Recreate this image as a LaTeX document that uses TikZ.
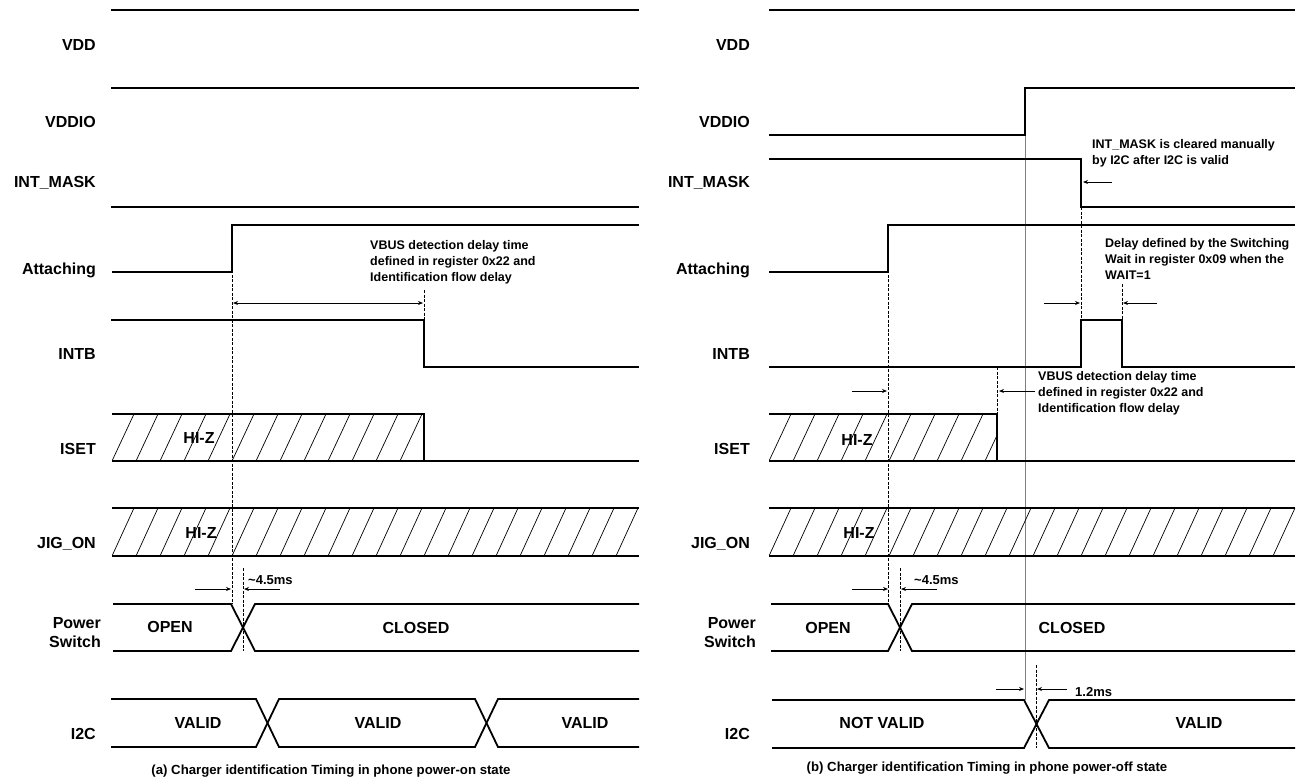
\documentclass[tikz,border=0pt]{standalone}
\usepackage{fontspec}
\setmainfont{Liberation Sans}
\usetikzlibrary{arrows.meta}
\begin{document}
\begin{tikzpicture}[x=1pt,y=-1pt,
  sig/.style={line width=1.8pt},
  hat/.style={line width=0.7pt},
  dsh/.style={line width=0.8pt, dash pattern=on 3pt off 1.5pt},
  arr/.style={line width=0.8pt, -{Stealth[length=5pt,width=4pt]}},
  darr/.style={line width=0.8pt, {Stealth[length=5pt,width=4pt]}-{Stealth[length=5pt,width=4pt]}},
  lab/.style={font=\fontsize{16}{19}\selectfont\bfseries, anchor=east, inner sep=0pt, align=right},
  st/.style={font=\fontsize{16}{16}\selectfont\bfseries, inner sep=0pt},
  note/.style={font=\fontsize{12.5}{16}\selectfont\bfseries, anchor=west, align=left, inner sep=0pt},
  small/.style={font=\fontsize{13}{13}\selectfont\bfseries, anchor=west, inner sep=0pt},
  captxt/.style={font=\fontsize{13.2}{14}\selectfont\bfseries, inner sep=0pt},
]
\useasboundingbox (0,0) rectangle (1301,780);
% ================= LEFT PANEL =================
\node[lab] (aVDD) at (96,45) {VDD};
\node[lab] (aVDDIO) at (96,122) {VDDIO};
\node[lab] (aMASK) at (96,183) {INT\_MASK};
\node[lab] (aATT) at (96,270) {Attaching};
\node[lab] (aINTB) at (96,354) {INTB};
\node[lab] (aISET) at (96,449) {ISET};
\node[lab] (aJIG) at (96,544) {JIG\_ON};
\node[lab] (aPS) at (101,633) {Power\\Switch};
\node[lab] (aI2C) at (96,734) {I2C};
% VDD, VDDIO, INT_MASK
\draw[sig] (111,10) -- (639,10);
\draw[sig] (111,88) -- (639,88);
\draw[sig] (111,207) -- (639,207);
% Attaching
\draw[sig] (112,272) -- (232,272) -- (232,225) -- (639,225);
% INTB
\draw[sig] (111,320) -- (424,320) -- (424,367) -- (639,367);
% ISET
\begin{scope}
\clip (112,414) rectangle (424,461);
\foreach \k in {0,...,13} \draw[hat] (112+24*\k,461) -- (134+24*\k,414);
\end{scope}
\draw[sig] (112,414) -- (424,414) -- (424,461);
\draw[sig] (112,461) -- (639,461);
\node[st] (aHZ1) at (199,438) {HI-Z};
% JIG_ON
\begin{scope}
\clip (112,508) rectangle (639,556);
\foreach \k in {0,...,22} \draw[hat] (112+24*\k,556) -- (134+24*\k,508);
\end{scope}
\draw[sig] (112,508) -- (639,508);
\draw[sig] (112,556) -- (639,556);
\node[st] (aHZ2) at (201,533) {HI-Z};
% Power switch
\draw[sig] (113,604) -- (231,604) -- (255,651) -- (639,651);
\draw[sig] (113,651) -- (231,651) -- (255,604) -- (639,604);
\node[st] (aOPEN) at (170,627) {OPEN};
\node[st] (aCLOSED) at (416,628) {CLOSED};
% I2C
\draw[sig] (111,699) -- (256,699) -- (279,747) -- (475,747) -- (498,699) -- (639,699);
\draw[sig] (111,747) -- (256,747) -- (279,699) -- (475,699) -- (498,747) -- (639,747);
\node[st] (aV1) at (198,723) {VALID};
\node[st] (aV2) at (378,723) {VALID};
\node[st] (aV3) at (585,723) {VALID};
% annotations
\draw[dsh] (232,225) -- (232,604);
\draw[dsh] (424,290) -- (424,320);
\draw[darr] (233,303) -- (423,303);
\node[note] (aN1) at (370,262) {VBUS detection delay time\\defined in register 0x22 and\\Identification flow delay};
\draw[dsh] (243,568) -- (243,651);
\draw[arr] (195,589) -- (231,589);
\draw[arr] (280,589) -- (244,589);
\node[small] (aMS) at (248,580) {\textasciitilde4.5ms};
\node[captxt] (aCAP) at (331,771) {(a) Charger identification Timing in phone power-on state};
% ================= RIGHT PANEL =================
\node[lab] (bVDD) at (750,45) {VDD};
\node[lab] (bVDDIO) at (750,122) {VDDIO};
\node[lab] (bMASK) at (750,183) {INT\_MASK};
\node[lab] (bATT) at (750,270) {Attaching};
\node[lab] (bINTB) at (750,354) {INTB};
\node[lab] (bISET) at (750,449) {ISET};
\node[lab] (bJIG) at (750,544) {JIG\_ON};
\node[lab] (bPS) at (756,633) {Power\\Switch};
\node[lab] (bI2C) at (750,734) {I2C};
% gray reference line
\draw[gray, line width=1pt] (1025,88) -- (1025,700);
% VDD
\draw[sig] (769,10) -- (1295,10);
% VDDIO
\draw[sig] (769,135) -- (1025,135) -- (1025,88) -- (1295,88);
% INT_MASK
\draw[sig] (769,159) -- (1081,159) -- (1081,207) -- (1295,207);
\node[note] (bN1) at (1092,153) {INT\_MASK is cleared manually\\by I2C after I2C is valid};
\draw[arr] (1112,182) -- (1083,182);
\draw[dsh] (1081,207) -- (1081,320);
% Attaching
\draw[sig] (769,272) -- (888,272) -- (888,225) -- (1295,225);
\node[note] (bN2) at (1105,259) {Delay defined by the Switching\\Wait in register 0x09 when the\\WAIT=1};
\draw[dsh] (1122,284) -- (1122,320);
\draw[arr] (1044,303) -- (1080,303);
\draw[arr] (1157,303) -- (1123,303);
% INTB
\draw[sig] (769,367) -- (1081,367) -- (1081,320) -- (1122,320) -- (1122,367) -- (1295,367);
\draw[dsh] (888,225) -- (888,604);
\draw[dsh] (997,367) -- (997,414);
\draw[arr] (852,391) -- (887,391);
\draw[arr] (1035,391) -- (999,391);
\node[note] (bN3) at (1038,393) {VBUS detection delay time\\defined in register 0x22 and\\Identification flow delay};
% ISET
\begin{scope}
\clip (769,414) rectangle (997,461);
\foreach \k in {0,...,9} \draw[hat] (769+24*\k,461) -- (791+24*\k,414);
\end{scope}
\draw[sig] (769,414) -- (997,414) -- (997,461);
\draw[sig] (769,461) -- (1295,461);
\node[st] (bHZ1) at (857,440) {HI-Z};
% JIG_ON
\begin{scope}
\clip (769,508) rectangle (1295,556);
\foreach \k in {0,...,22} \draw[hat] (769+24*\k,556) -- (791+24*\k,508);
\end{scope}
\draw[sig] (769,508) -- (1295,508);
\draw[sig] (769,556) -- (1295,556);
\node[st] (bHZ2) at (859,533) {HI-Z};
% Power switch
\draw[sig] (771,604) -- (888,604) -- (912,651) -- (1295,651);
\draw[sig] (771,651) -- (888,651) -- (912,604) -- (1295,604);
\draw[dsh] (900,568) -- (900,651);
\draw[arr] (852,589) -- (888,589);
\draw[arr] (937,589) -- (901,589);
\node[small] (bMS) at (914,580) {\textasciitilde4.5ms};
\node[st] (bOPEN) at (828,628) {OPEN};
\node[st] (bCLOSED) at (1072,628) {CLOSED};
% I2C
\draw[sig] (772,700) -- (1024,700) -- (1049,748) -- (1295,748);
\draw[sig] (772,748) -- (1024,748) -- (1049,700) -- (1295,700);
\draw[dsh] (1036,665) -- (1036,748);
\draw[arr] (996,689) -- (1024,689);
\draw[arr] (1067,689) -- (1037,689);
\node[small] (bMS2) at (1075,692) {1.2ms};
\node[st] (bNV) at (882,723) {NOT VALID};
\node[st] (bV) at (1199,723) {VALID};
\node[captxt] (bCAP) at (987,768) {(b) Charger identification Timing in phone power-off state};
\end{tikzpicture}
\end{document}
